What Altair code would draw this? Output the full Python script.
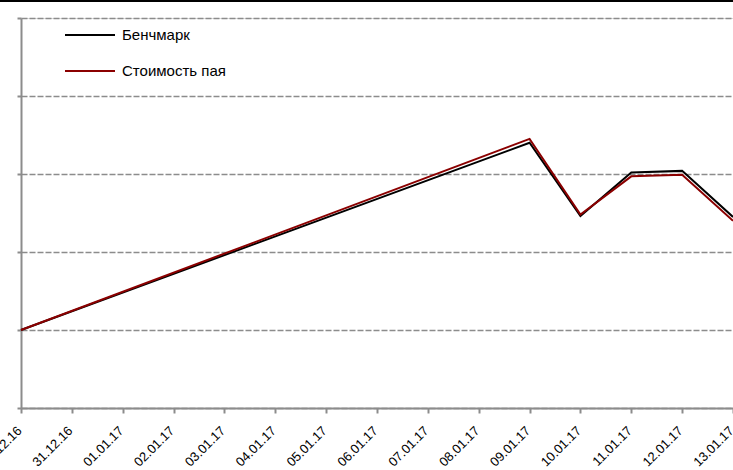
import altair as alt
import pandas as pd

dates = ["2016-12-30", "2017-01-09", "2017-01-10", "2017-01-11", "2017-01-12", "2017-01-13"]
bench = [100.0, 102.40, 101.46, 102.02, 102.04, 101.45]
fund = [100.0, 102.45, 101.48, 101.97, 101.99, 101.40]
series_names = ["Бенчмарк", "Стоимость пая"]
series_colors = ["#000000", "#8B0000"]
tick_dates = [("2016", 12, d) for d in (30, 31)] + [("2017", 1, d) for d in range(1, 14)]
y_ticks = [99, 100, 101, 102, 103, 104]

rows = []
for d, b, f in zip(dates, bench, fund):
    rows.append({"date": d, "value": b, "series": series_names[0], "order": 0})
    rows.append({"date": d, "value": f, "series": series_names[1], "order": 1})
df = pd.DataFrame(rows)

tick_values = [alt.DateTime(year=int(y), month=m, date=d, utc=True) for y, m, d in tick_dates]
font = "Liberation Sans"

lines = alt.Chart(df).mark_line(strokeWidth=2).encode(
    x=alt.X(
        "date:T",
        scale=alt.Scale(
            type="utc",
            domain=[alt.DateTime(year=2016, month=12, date=30, utc=True),
                    alt.DateTime(year=2017, month=1, date=13, utc=True)],
            nice=False,
        ),
        axis=alt.Axis(
            values=tick_values,
            format="%d.%m.%y",
            labelAngle=-45,
            labelAlign="right",
            labelBaseline="top",
            labelPadding=11,
            labelOffset=-6,
            labelFont=font,
            labelFontSize=13,
            labelColor="#000000",
            domainColor="#8c8c8c",
            domainWidth=2,
            tickColor="#8c8c8c",
            tickWidth=2,
            tickSize=5,
            grid=False,
            title=None,
            labelOverlap=False,
        ),
    ),
    y=alt.Y(
        "value:Q",
        scale=alt.Scale(domain=[99, 104], nice=False, zero=False),
        axis=alt.Axis(
            values=y_ticks,
            labels=False,
            title=None,
            domainColor="#8c8c8c",
            domainWidth=2,
            tickColor="#8c8c8c",
            tickWidth=2,
            tickSize=4,
            grid=True,
            gridColor="#8c8c8c",
            gridDash=[6, 2],
            gridWidth=1.5,
        ),
    ),
    color=alt.Color(
        "series:N",
        scale=alt.Scale(domain=series_names, range=series_colors),
        legend=alt.Legend(
            orient="none",
            legendX=43,
            legendY=-9,
            title=None,
            symbolType="stroke",
            symbolSize=2500,
            symbolStrokeWidth=2,
            labelFont=font,
            labelFontSize=15,
            labelColor="#000000",
            rowPadding=2,
            labelOffset=6,
            padding=0,
        ),
    ),
    order=alt.Order("order:Q"),
)

top_band = alt.Chart(pd.DataFrame({"a": [0]})).mark_rule(color="#000000", strokeWidth=2).encode(
    x=alt.value(-21), x2=alt.value(712), y=alt.value(-17)
)

chart = alt.layer(lines, top_band).properties(
    width=712,
    height=390,
    autosize=alt.AutoSizeParams(type="none"),
    padding={"left": 21, "top": 18, "right": 0, "bottom": 62},
).configure_view(stroke=None).configure(background="#ffffff")

chart.save("out.html", embed_options={"renderer": "svg", "actions": False})
